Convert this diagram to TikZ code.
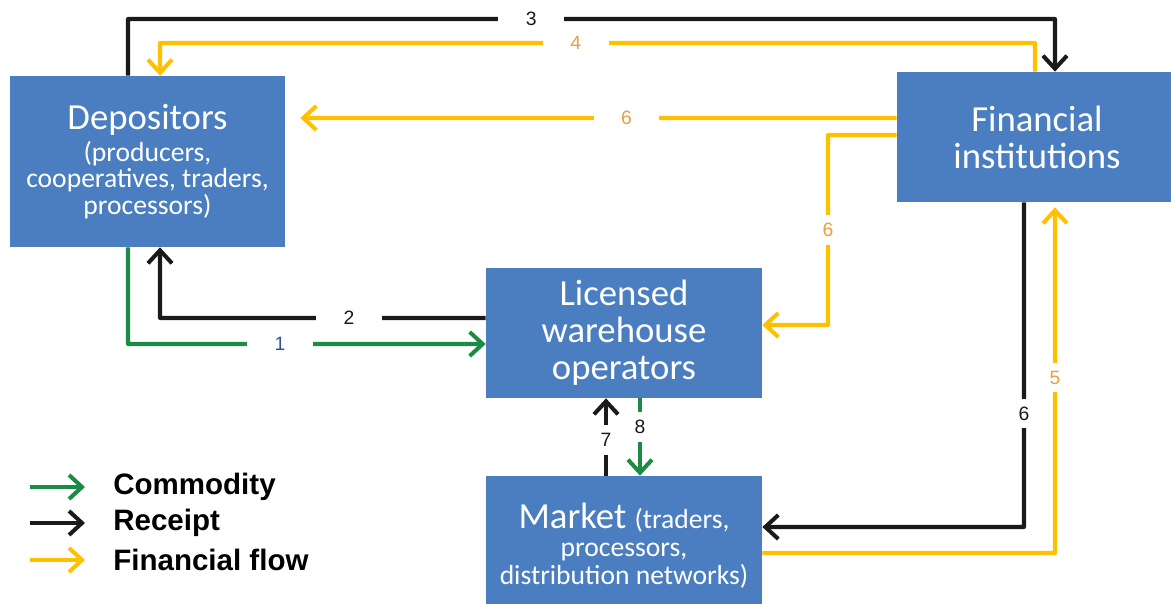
\documentclass[tikz,border=0pt]{standalone}
\usepackage{fontspec}
\setmainfont{Carlito}
\newfontfamily\arialfont{Liberation Sans}
\usepackage{xcolor}
\usetikzlibrary{arrows.meta, calc}
\definecolor{boxblue}{RGB}{74,126,193}
\definecolor{goldflow}{RGB}{255,192,0}
\definecolor{commgreen}{RGB}{28,140,68}
\definecolor{rcptblack}{RGB}{26,26,26}
\definecolor{numorange}{RGB}{236,158,62}
\definecolor{numblue}{RGB}{47,85,151}
\newcommand{\subtxt}{\fontsize{15.7}{14.7}\selectfont}
\tikzset{
  box/.style={rectangle, fill=boxblue, text=white, align=center, inner sep=2pt,
              font=\fontsize{20.9}{21}\selectfont},
  flow/.style={line width=2.3pt, line join=round,
               -{Straight Barb[length=2.6mm, width=4.8mm]}},
  comm/.style={flow, draw=commgreen},
  rcpt/.style={flow, draw=rcptblack},
  finflow/.style={flow, draw=goldflow},
  hnum/.style={fill=white, inner xsep=5.5mm, inner ysep=1pt,
               font=\arialfont\fontsize{11}{11}\selectfont},
  vnum/.style={fill=white, inner xsep=1pt, inner ysep=1.6mm,
               font=\arialfont\fontsize{11}{11}\selectfont},
  leg/.style={anchor=west, inner sep=0pt,
              font=\arialfont\bfseries\fontsize{16.8}{17}\selectfont},
}

\begin{document}
\begin{tikzpicture}[x=0.02cm, y=-0.02cm]
  \useasboundingbox (0,0) rectangle (1171,604);
  % actors
  \node[box, minimum width=5.5cm, minimum height=3.42cm] (dep) at (147.5,161.5)
    {Depositors\\[-3pt] {\subtxt (producers,}\\[-6pt] {\subtxt cooperatives, traders,}\\[-6pt] {\subtxt processors)}};
  \node[box, minimum width=5.6cm, minimum height=2.6cm] (fin) at (1037,137)
    {Financial\\ institutions};
  \node[box, minimum width=5.52cm, minimum height=2.6cm] (lwo) at (624,333)
    {Licensed\\ warehouse\\ operators};
  \node[box, minimum width=5.52cm, minimum height=2.8cm] (mkt) at (624,546)
    {Market {\subtxt (traders,}\\[-5pt] {\subtxt processors,}\\[-5pt] {\subtxt distribution networks)}};

  % flows
  \draw[rcpt] ([xshift=-3.9mm]dep.north) -- (128,19)
    -- node[hnum, pos=0.435, text=rcptblack]{3} (1055,19) -- ([xshift=3.6mm]fin.north);
  \draw[finflow] ([xshift=-0.4mm]fin.north) -- (1035,43)
    -- node[hnum, pos=0.525, text=numorange]{4} (160,43) -- ([xshift=2.5mm]dep.north);
  \draw[finflow, shorten >=3mm] ([yshift=3.8mm]fin.west)
    -- node[hnum, pos=0.442, text=numorange]{6} ([yshift=8.7mm]dep.east);
  \draw[finflow] ([yshift=0.4mm]fin.west) -- (828,135)
    -- node[vnum, text=numorange]{6} (828,325) -- ([yshift=1.6mm]lwo.east);
  \draw[rcpt] ([yshift=3mm]lwo.west)
    -- node[hnum, pos=0.42, text=rcptblack]{2} (160,318) -- ([xshift=2.5mm]dep.south);
  \draw[comm] ([xshift=-3.9mm]dep.south) -- (128,344)
    -- node[hnum, pos=0.425, text=numblue]{1} ([yshift=-2.2mm]lwo.west);
  \draw[rcpt] ([xshift=-3.6mm]mkt.north)
    -- node[vnum, pos=0.46, text=rcptblack]{7} ([xshift=-3.6mm]lwo.south);
  \draw[comm] ([xshift=3.2mm]lwo.south)
    -- node[vnum, pos=0.37, text=rcptblack]{8} ([xshift=3.2mm]mkt.north);
  \draw[rcpt] ([xshift=-2.6mm]fin.south)
    -- node[vnum, pos=0.65, text=rcptblack]{6} (1024,527) -- ([yshift=3.8mm]mkt.east);
  \draw[finflow, shorten >=1mm] ([yshift=-1.4mm]mkt.east) -- (1055,553)
    -- node[vnum, text=numorange]{5} ([xshift=3.6mm]fin.south);

  % legend
  \node[leg] (lgc) at (113,487) {Commodity};
  \node[leg] (lgr) at (113,523) {Receipt};
  \node[leg] (lgf) at (113,560) {Financial flow};
  \draw[comm] ([xshift=-16.6mm]lgc.west) -- ([xshift=-5.6mm]lgc.west);
  \draw[rcpt] ([xshift=-16.6mm]lgr.west) -- ([xshift=-5.6mm]lgr.west);
  \draw[finflow] ([xshift=-16.6mm]lgf.west) -- ([xshift=-5.6mm]lgf.west);
\end{tikzpicture}
\end{document}
